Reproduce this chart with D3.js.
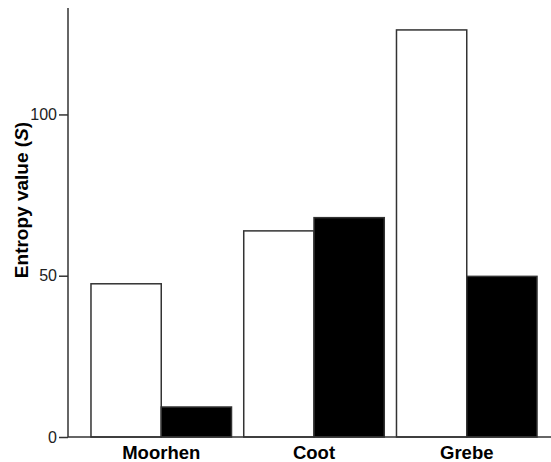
<!DOCTYPE html>
<html>
<head>
<meta charset="utf-8">
<script src="https://cdn.jsdelivr.net/npm/d3@7"></script>
<style>
  body { margin: 0; background: #fff; }
  text { font-family: "Liberation Sans", Arial, sans-serif; }
</style>
</head>
<body>
<div id="chart"></div>
<script>
const birds = ['Moorhen', 'Coot', 'Grebe'];
const groups = ['open', 'filled'];
const openValues = [47.5, 63.9, 126.2];
const filledValues = [9.3, 68.0, 49.8];
const yTicks = [0, 50, 100];

const width = 551, height = 462;

const svg = d3.select('#chart')
    .append('svg')
    .attr('width', width)
    .attr('height', height);

const x = d3.scaleBand()
    .domain(birds)
    .range([78, 550])
    .paddingInner(0.08)
    .paddingOuter(0.085);

const xSub = d3.scaleBand()
    .domain(groups)
    .range([0, x.bandwidth()]);

const y = d3.scaleLinear()
    .domain([0, 133])
    .range([437, 8]);

const rows = birds.map((b, i) => ({ bird: b, open: openValues[i], filled: filledValues[i] }));

// bars
const g = svg.selectAll('g.bird')
    .data(rows)
    .enter()
    .append('g')
    .attr('class', 'bird')
    .attr('transform', d => `translate(${x(d.bird)},0)`);

g.selectAll('rect')
    .data(d => groups.map(k => ({ key: k, value: d[k] })))
    .enter()
    .append('rect')
    .attr('x', d => xSub(d.key))
    .attr('width', xSub.bandwidth())
    .attr('y', d => y(d.value))
    .attr('height', d => y(0) - y(d.value))
    .attr('fill', d => d.key === 'open' ? '#fff' : '#000')
    .attr('stroke', '#333')
    .attr('stroke-width', 1.5);

// y axis
const yAxis = svg.append('g')
    .attr('transform', 'translate(68,0)')
    .call(d3.axisLeft(y).tickValues(yTicks).tickSize(9).tickPadding(2).tickSizeOuter(0));
yAxis.select('.domain').attr('stroke', '#333').attr('stroke-width', 1.5)
    .attr('d', `M0,${y(133)}V${y(0)}`);
yAxis.selectAll('.tick line').attr('stroke', '#333').attr('stroke-width', 1.5);
yAxis.selectAll('.tick text')
    .attr('font-size', 16)
    .attr('fill', '#222')
    .style('font-family', '"Liberation Sans", Arial, sans-serif');

// baseline
svg.append('line')
    .attr('x1', 68).attr('x2', width)
    .attr('y1', y(0)).attr('y2', y(0))
    .attr('stroke', '#333')
    .attr('stroke-width', 1.5);

// category labels
svg.selectAll('text.cat')
    .data(birds)
    .enter()
    .append('text')
    .attr('class', 'cat')
    .attr('x', d => x(d) + x.bandwidth() / 2)
    .attr('y', 459)
    .attr('text-anchor', 'middle')
    .attr('font-size', 18.5)
    .attr('font-weight', 'bold')
    .text(d => d);

// y title
const title = svg.append('text')
    .attr('transform', 'translate(28,200) rotate(-90)')
    .attr('text-anchor', 'middle')
    .attr('font-size', 19)
    .attr('font-weight', 'bold');
title.append('tspan').text('Entropy value (');
title.append('tspan').attr('font-style', 'italic').text('S');
title.append('tspan').text(')');
</script>
</body>
</html>
